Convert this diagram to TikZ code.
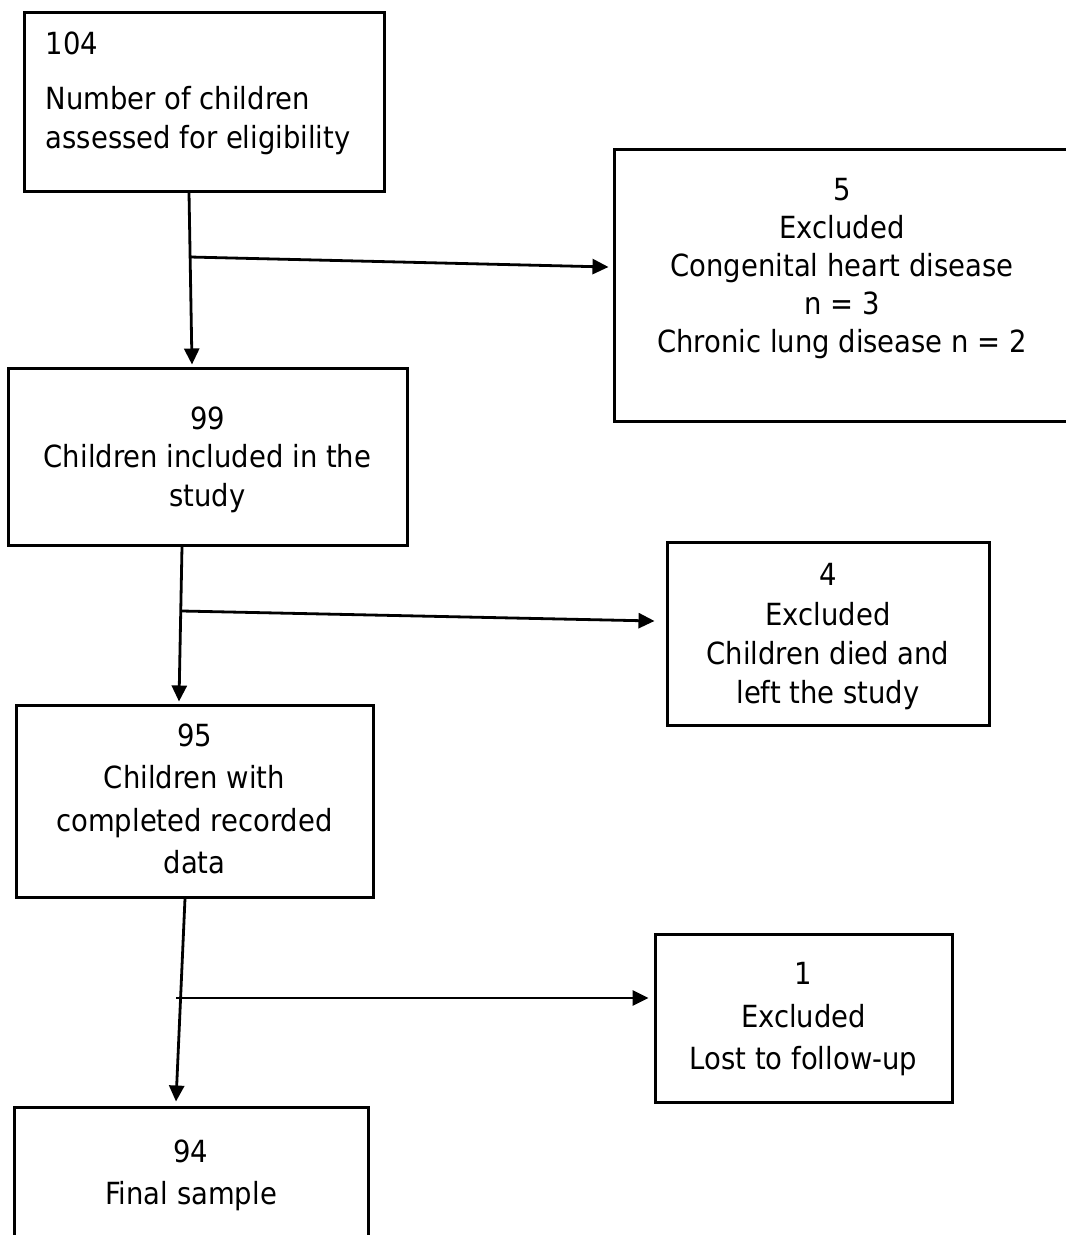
\documentclass[tikz,border=0pt]{standalone}
\usepackage{fontspec}
\setmainfont{DejaVu Sans}[FakeStretch=0.9]
\usetikzlibrary{arrows.meta,positioning}

\begin{document}
\begin{tikzpicture}[x=1pt,y=-1pt,
	box/.style={draw, line width=3pt, inner sep=0pt},
	txt/.style={inner sep=0pt, align=center, font=\fontsize{30.5}{38.5}\selectfont},
	wide/.style={font=\fontsize{30.5}{42.5}\selectfont},
	arr/.style={line width=2.8pt, -{Triangle[length=16pt,width=15pt]}}]
\useasboundingbox (0,0) rectangle (1066,1235);

% boxes
\node [box, minimum width=360pt, minimum height=179pt] (b1) at (204,101.5) {};
\node [box, minimum width=456pt, minimum height=272pt] (b2) at (842,285) {};
\node [box, minimum width=399pt, minimum height=177pt] (b3) at (207.5,456.5) {};
\node [box, minimum width=322pt, minimum height=183pt] (b4) at (828,633.5) {};
\node [box, minimum width=357pt, minimum height=192pt] (b5) at (194.5,801) {};
\node [box, minimum width=297pt, minimum height=168pt] (b6) at (803.5,1018) {};
\node [box, minimum width=354pt, minimum height=146pt] (b7) at (191,1180) {};

% texts
\node [txt, align=left, below right=21pt and 23pt of b1.north west] (t1) {104\\[17pt]Number of children\\assessed for eligibility};
\node [txt, font=\fontsize{30.5}{37.8}\selectfont, below=31pt of b2.north] (t2) {5\\Excluded\\Congenital heart disease\\n = 3\\Chronic lung disease n = 2};
\node [txt, below=40pt of b3.north] (t3) {99\\Children included in the\\study};
\node [txt, font=\fontsize{30.5}{39.3}\selectfont, below=23pt of b4.north] (t4) {4\\Excluded\\Children died and\\left the study};
\node [txt, wide, below=20pt of b5.north] (t5) {95\\Children with\\completed recorded\\data};
\node [txt, wide, below=30pt of b6.north] (t6) {1\\Excluded\\Lost to follow-up};
\node [txt, wide, below=34pt of b7.north] (t7) {94\\Final sample};

% connectors
\coordinate (j1) at (190,257);
\coordinate (j2) at (182,611);
\coordinate (j3) at (176,998);
\draw [arr] ([xshift=-15pt]b1.south) -- ([xshift=-15.5pt,yshift=2pt]b3.north);
\draw [arr] (j1) -- ([xshift=-4pt,yshift=18pt]b2.west);
\draw [arr] ([xshift=-25.5pt]b3.south) -- ([xshift=-15.5pt,yshift=2pt]b5.north);
\draw [arr] (j2) -- ([xshift=-11pt,yshift=12.5pt]b4.west);
\draw [arr] ([xshift=-9.5pt]b5.south) -- ([xshift=-15pt,yshift=4pt]b7.north);
\draw [arr] (j3) -- ([xshift=-5pt,yshift=20pt]b6.west);
\end{tikzpicture}
\end{document}
